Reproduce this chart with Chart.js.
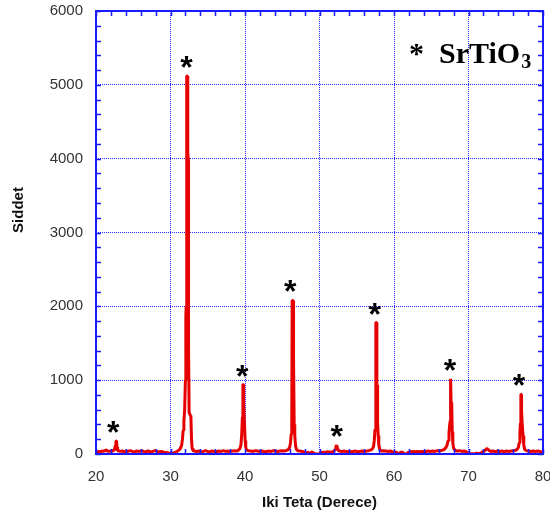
<!DOCTYPE html>
<html>
<head>
<meta charset="utf-8">
<script src="https://cdn.jsdelivr.net/npm/chart.js@4"></script>
<style>
  html, body { margin: 0; padding: 0; background: #fff; }
  #wrap { width: 550px; height: 518px; }
</style>
</head>
<body>
<div id="wrap"><canvas id="xrd" width="550" height="518"></canvas></div>
<script>
// 2-theta positions (degrees) of the measured pattern
const twoTheta = [
  20.0, 20.2, 20.4, 20.6, 20.8, 21.0, 21.2, 21.4, 21.5, 21.7, 21.9, 22.1, 22.3,
  22.5, 22.6, 22.68, 22.76, 22.82, 22.9,
  23.1, 23.3, 23.5, 23.8, 24.0, 24.3, 24.6, 24.9, 25.2, 25.5, 25.8, 26.1, 26.4, 26.7,
  27.0, 27.3, 27.6, 27.9, 28.2, 28.5, 28.8, 29.1, 29.4, 29.7, 30.0, 30.3, 30.6, 30.9, 31.1, 31.3,
  31.5, 31.6, 31.7, 31.8, 31.9, 32.0, 32.06, 32.1, 32.18, 32.28, 32.32, 32.38, 32.42, 32.5, 32.6, 32.68, 32.74, 32.82, 32.9, 33.0,
  33.2, 33.5, 33.8, 34.1, 34.4, 34.7, 35.0, 35.3, 35.6, 35.9, 36.2, 36.5, 36.8, 37.1, 37.4, 37.7,
  38.0, 38.3, 38.6, 38.9, 39.1, 39.3, 39.45,
  39.55, 39.65, 39.72, 39.78, 39.82, 39.9, 39.95, 40.02, 40.1, 40.2, 40.3,
  40.5, 40.8, 41.1, 41.4, 41.7, 42.0, 42.3, 42.6, 42.9, 43.2, 43.5, 43.8, 44.1, 44.4, 44.7,
  45.0, 45.3, 45.6, 45.8, 46.0, 46.1,
  46.2, 46.28, 46.33, 46.45, 46.48, 46.55, 46.6, 46.68, 46.78, 46.9,
  47.1, 47.4, 47.7, 48.0, 48.2, 48.4, 48.6, 48.8, 49.0, 49.2, 49.5, 49.8, 50.0, 50.3, 50.5,
  50.8, 51.1, 51.4, 51.7, 51.9,
  52.1, 52.2, 52.3, 52.4, 52.5, 52.7,
  53.0, 53.3, 53.6, 53.9, 54.2, 54.5, 54.8, 55.1, 55.4, 55.7, 56.0, 56.3, 56.6, 56.9, 57.1, 57.25,
  57.35, 57.45, 57.55, 57.58, 57.68, 57.7, 57.76, 57.8, 57.88, 57.96, 58.1,
  58.3, 58.6, 58.9, 59.2, 59.5, 59.8, 60.0, 60.2, 60.4, 60.5, 60.7, 60.8, 61.0, 61.2, 61.4, 61.7,
  61.9, 62.2, 62.5, 62.8, 63.1, 63.4, 63.7, 64.0, 64.3, 64.6, 64.9, 65.2, 65.5, 65.8, 66.1, 66.4,
  66.7, 66.9, 67.1,
  67.25, 67.38, 67.48, 67.55, 67.58, 67.62, 67.66, 67.72, 67.78, 67.82, 67.9, 68.0, 68.2,
  68.5, 68.8, 69.1, 69.4, 69.7, 69.9, 70.1, 70.5, 70.8, 71.1, 71.4, 71.7, 71.9, 72.1,
  72.3, 72.45, 72.6, 72.8, 73.0, 73.3, 73.6, 73.9, 74.2, 74.5, 74.8, 75.1, 75.4, 75.7, 76.0,
  76.3, 76.5, 76.7,
  76.8, 76.9, 76.97, 77.03, 77.08, 77.12, 77.2, 77.26, 77.32, 77.42, 77.55,
  77.8, 78.1, 78.4, 78.7, 79.0, 79.3, 79.6, 80.0
];

// Diffracted intensity (counts) at each 2-theta position
const intensity = [
  35, 30, 35, 30, 40, 35, 45, 55, 40, 35, 40, 35, 45,
  60, 120, 175, 175, 90, 45,
  40, 35, 40, 30, 40, 35, 45, 35, 30, 40, 35, 45, 35, 30,
  40, 30, 35, 45, 35, 30, 35, 25, 20, 15, 5, 10, 20, 35, 50, 70,
  120, 200, 320, 450, 600, 1000, 1870, 2000, 5120, 5120, 4080, 4000, 1500, 560, 560, 520, 500, 200, 80, 50,
  40, 35, 40, 30, 35, 45, 35, 30, 40, 35, 30, 40, 35, 45, 35, 40,
  35, 40, 45, 40, 50, 70, 120,
  250, 500, 940, 940, 700, 480, 480, 180, 90, 60, 50,
  45, 40, 35, 45, 40, 35, 40, 30, 35, 40, 35, 45, 40, 35, 40,
  45, 40, 50, 60, 90, 150,
  270, 500, 2080, 2080, 1290, 1290, 400, 250, 120, 60,
  45, 40, 35, 25, 10, 25, 5, 15, 30, 10, 0, 0, 5, 20, 25,
  20, 30, 25, 30, 35,
  60, 100, 120, 80, 50, 40,
  35, 40, 30, 35, 30, 35, 40, 30, 35, 40, 35, 40, 45, 55, 70, 100,
  180, 330, 420, 1780, 1780, 935, 935, 420, 250, 120, 60,
  40, 45, 40, 35, 40, 30, 15, 25, 20, 0, 0, 20, 25, 20, 0, 5,
  20, 30, 35, 30, 35, 30, 35, 30, 35, 40, 35, 40, 35, 45, 40, 50,
  60, 80, 110,
  180, 290, 400, 450, 1020, 1020, 700, 640, 640, 300, 150, 80, 50,
  40, 45, 35, 40, 30, 10, 0, 5, 0, 10, 5, 15, 30, 40,
  55, 75, 65, 45, 35, 40, 30, 40, 35, 40, 30, 40, 35, 40, 45,
  50, 60, 90,
  150, 280, 420, 810, 810, 600, 420, 420, 250, 120, 60,
  45, 40, 35, 40, 35, 40, 35, 30
];

// Reflections marked with an asterisk: 2-theta of the mark and the peak height it sits over
const markTheta  = [22.3, 32.13, 39.64, 46.07, 52.3, 57.4, 67.52, 76.77];
const markCounts = [175, 5120, 940, 2080, 120, 1780, 1020, 810];

// Axis ranges and tick spacing
const xRange = [20, 80];
const yRange = [0, 6000];
const xMajor = 10, xMinor = 2;
const yMajor = 1000, yMinor = 200;

const AXIS_BLUE = '#1a1aff';
const GRID_BLUE = '#2a2aff';
const SANS = '"Liberation Sans", Arial, sans-serif';
const SERIF = '"Liberation Serif", "Times New Roman", serif';

const points = twoTheta.map((t, i) => ({ x: t, y: intensity[i] }));

// Frame, inward ticks, peak asterisks, phase label and y-axis title
const decorations = {
  id: 'decorations',
  afterDraw(chart) {
    const { ctx, chartArea: a, scales: { x, y } } = chart;
    ctx.save();

    // inward ticks on all four sides
    ctx.strokeStyle = AXIS_BLUE;
    ctx.lineWidth = 1.5;
    ctx.beginPath();
    for (let v = xRange[0]; v <= xRange[1] + 1e-9; v += xMinor) {
      const px = Math.round(x.getPixelForValue(v)) + 0.5;
      ctx.moveTo(px, a.bottom); ctx.lineTo(px, a.bottom - 5);
      ctx.moveTo(px, a.top); ctx.lineTo(px, a.top + 5);
    }
    for (let v = yRange[0]; v <= yRange[1] + 1e-9; v += yMinor) {
      const py = Math.round(y.getPixelForValue(v)) + 0.5;
      ctx.moveTo(a.left, py); ctx.lineTo(a.left + 5, py);
      ctx.moveTo(a.right, py); ctx.lineTo(a.right - 5, py);
    }
    ctx.stroke();

    // plot frame
    ctx.lineWidth = 2;
    ctx.strokeRect(a.left, a.top, a.right - a.left, a.bottom - a.top);

    // asterisks over the indexed reflections
    ctx.fillStyle = '#000';
    ctx.font = 'bold 32px ' + SANS;
    ctx.textAlign = 'center';
    ctx.textBaseline = 'alphabetic';
    const m = ctx.measureText('*');
    const mid = (m.actualBoundingBoxDescent - m.actualBoundingBoxAscent) / 2;
    markTheta.forEach((t, i) => {
      const cx = x.getPixelForValue(t);
      const cy = y.getPixelForValue(markCounts[i]) - 14;
      ctx.fillText('*', cx, cy - mid);
    });

    // phase label
    ctx.textAlign = 'left';
    ctx.font = 'bold 30px ' + SERIF;
    ctx.fillText('*', 409, 63);
    ctx.fillText('SrTiO', 439, 63);
    const w = ctx.measureText('SrTiO').width;
    ctx.font = 'bold 20px ' + SERIF;
    ctx.fillText('3', 439 + w + 1, 68);

    // y-axis title
    ctx.translate(19, 210);
    ctx.rotate(-Math.PI / 2);
    ctx.textAlign = 'center';
    ctx.textBaseline = 'middle';
    ctx.font = 'bold 15px ' + SANS;
    ctx.fillStyle = '#111';
    ctx.fillText('Siddet', 0, 0);

    ctx.restore();
  }
};

const plainNumber = v => String(v);

new Chart(document.getElementById('xrd'), {
  type: 'line',
  data: {
    datasets: [{
      data: points,
      borderColor: '#e60000',
      borderWidth: 3,
      borderJoinStyle: 'bevel',
      pointRadius: 0,
      tension: 0,
      fill: false
    }]
  },
  options: {
    responsive: false,
    animation: false,
    layout: { padding: { top: 11, right: 7, left: 0, bottom: 0 } },
    plugins: { legend: { display: false }, tooltip: { enabled: false } },
    scales: {
      x: {
        type: 'linear',
        min: xRange[0], max: xRange[1],
        ticks: { stepSize: xMajor, color: '#333', padding: 14, font: { family: SANS, size: 15 }, callback: plainNumber },
        grid: { color: GRID_BLUE, lineWidth: 1, drawTicks: false },
        border: { display: false, dash: [1, 1] },
        title: {
          display: true, text: 'Iki Teta (Derece)', color: '#111',
          font: { family: SANS, size: 15, weight: 'bold' }, padding: { top: 0, bottom: 6 }
        },
        afterFit(s) { s.height = 64; s.paddingLeft = 0; s.paddingRight = 0; }
      },
      y: {
        type: 'linear',
        min: yRange[0], max: yRange[1],
        ticks: { stepSize: yMajor, color: '#333', padding: 13, font: { family: SANS, size: 15 }, callback: plainNumber },
        grid: { color: GRID_BLUE, lineWidth: 1, drawTicks: false },
        border: { display: false, dash: [1, 1] },
        afterFit(s) { s.width = 96; s.paddingTop = 0; s.paddingBottom = 0; }
      }
    }
  },
  plugins: [decorations]
});
</script>
</body>
</html>
